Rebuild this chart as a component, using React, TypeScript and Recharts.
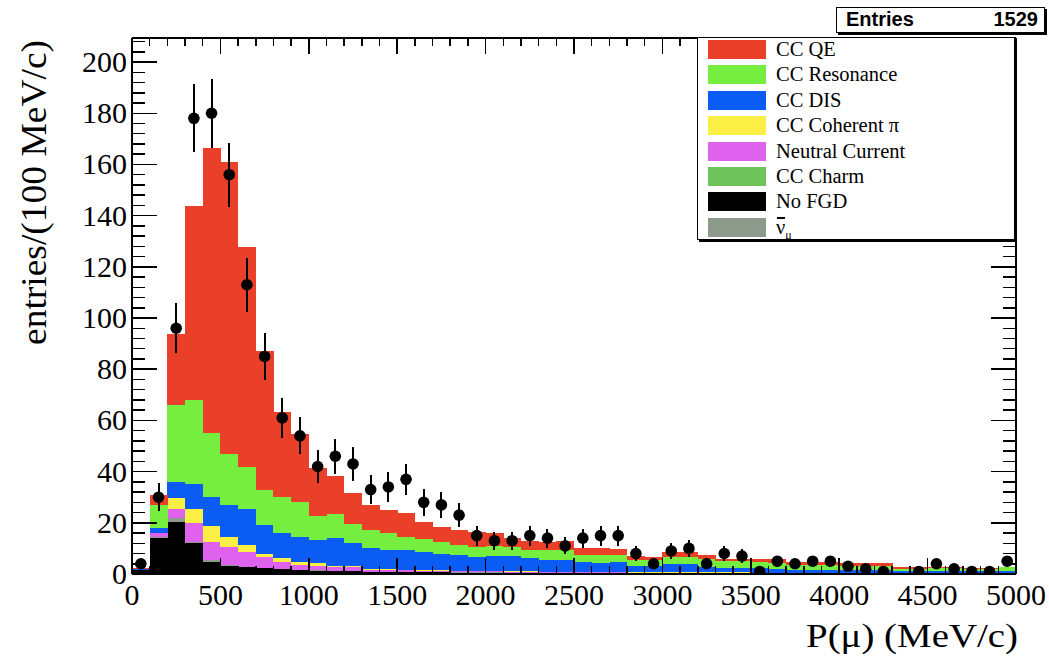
import { ComposedChart, Bar, Line, XAxis, YAxis, ErrorBar, Legend } from 'recharts';

// muon momentum bins, 100 MeV/c wide (low edges)
const binStart = [
  0, 100, 200, 300, 400, 500, 600, 700, 800, 900,
  1000, 1100, 1200, 1300, 1400, 1500, 1600, 1700, 1800, 1900,
  2000, 2100, 2200, 2300, 2400, 2500, 2600, 2700, 2800, 2900,
  3000, 3100, 3200, 3300, 3400, 3500, 3600, 3700, 3800, 3900,
  4000, 4100, 4200, 4300, 4400, 4500, 4600, 4700, 4800, 4900,
];
const binWidth = 100;

// MC stack components (entries per bin)
const noFGD = [
  1.5, 14, 20.4, 12, 4.8, 3.1, 2.6, 2.2, 1.8, 1.5,
  1.2, 1.0, 1.0, 0.8, 0.7, 0.7, 0.6, 0.6, 0.5, 0.5,
  0.5, 0.4, 0.4, 0.3, 0.3, 0.3, 0.3, 0.3, 0.2, 0.2,
  0.2, 0.2, 0.2, 0.2, 0.2, 0.1, 0.1, 0.1, 0.1, 0.1,
  0.1, 0.1, 0.1, 0.1, 0.1, 0.1, 0.1, 0.1, 0.1, 0.1,
];
const antiNuMu = [
  0, 0.5, 1.3, 0.6, 0.7, 0.4, 0.3, 0.2, 0.2, 0.2,
  0.2, 0.2, 0.1, 0.1, 0.1, 0.1, 0.1, 0.1, 0.1, 0.1,
  0.1, 0.1, 0.1, 0.1, 0.1, 0.1, 0.1, 0.1, 0.1, 0.1,
  0.1, 0.1, 0.1, 0.1, 0.1, 0.1, 0.1, 0.1, 0.1, 0.1,
  0.1, 0.1, 0.1, 0.1, 0.1, 0.1, 0.1, 0.1, 0.1, 0.1,
];
const neutralCurrent = [
  0, 1.4, 3.6, 7.2, 7.1, 7.2, 5.8, 4.1, 2.8, 1.8,
  1.9, 1.7, 1.5, 0.8, 0.7, 0.6, 0.6, 0.5, 0.5, 0.4,
  0.4, 0.4, 0.3, 0.3, 0.3, 0.3, 0.3, 0.3, 0.2, 0.2,
  0.2, 0.2, 0.2, 0.2, 0.2, 0.1, 0.1, 0.1, 0.1, 0.1,
  0.1, 0.1, 0.1, 0.1, 0.1, 0.1, 0.1, 0.1, 0.1, 0.1,
];
const ccCharm = [
  0, 0, 0, 0, 0, 0, 0, 0, 0, 0,
  0, 0, 0, 0, 0, 0, 0, 0, 0, 0,
  0, 0, 0, 0, 0, 0, 0, 0, 0, 0,
  0, 0, 0, 0, 0, 0, 0, 0, 0, 0,
  0, 0, 0, 0, 0, 0, 0, 0, 0, 0,
];
const ccCoherent = [
  0, 0, 4.3, 5.5, 6.2, 3.9, 2.6, 1.3, 1.3, 1.0,
  0.9, 0.4, 0.4, 0.3, 0.3, 0.3, 0.2, 0.2, 0.2, 0.2,
  0.1, 0.1, 0.2, 0.1, 0.1, 0.1, 0.1, 0.1, 0.1, 0.1,
  0.1, 0.1, 0.1, 0.1, 0.1, 0.1, 0.1, 0, 0, 0,
  0, 0, 0, 0, 0, 0, 0, 0, 0, 0,
];
const ccDIS = [
  0.3, 1.9, 6.4, 9.9, 11.4, 12.4, 14.2, 11.2, 9.9, 9.8,
  9.1, 10.6, 9.2, 8.0, 7.6, 7.5, 6.9, 6.5, 6.1, 5.6,
  5.9, 6.0, 5.1, 4.7, 4.7, 4.0, 3.4, 4.0, 2.5, 2.5,
  3.2, 3.2, 2.3, 1.7, 1.8, 1.8, 1.4, 1.4, 1.4, 1.4,
  1.3, 1.3, 1.3, 1.0, 1.0, 1.0, 1.0, 1.0, 1.0, 1.0,
];
const ccResonance = [
  0.3, 9.2, 30, 32.6, 25, 19.9, 16.2, 13.9, 14, 14,
  9.4, 9.5, 7.2, 7.2, 6.6, 5.4, 5.4, 4.7, 3.9, 3.9,
  4.0, 3.7, 3.3, 3.9, 3.9, 2.6, 3.2, 2.6, 2.4, 2.2,
  3.0, 3.0, 2.8, 2.6, 2.5, 2.6, 2.6, 1.7, 1.7, 1.7,
  1.5, 1.5, 1.5, 0.5, 0.5, 0.9, 0.9, 0.7, 0.7, 1.3,
];
const ccQE = [
  0.4, 3.8, 27.7, 75.8, 111.2, 114.1, 85.9, 54.1, 33.2, 26.2,
  18.8, 14.8, 12.4, 9.8, 9.0, 9.4, 6.5, 5.7, 5.9, 5.7,
  5.0, 3.3, 3.6, 3.2, 3.4, 2.6, 2.6, 2.4, 1.5, 1.5,
  1.9, 1.9, 1.7, 1.1, 1.1, 1.1, 1.5, 1.3, 1.3, 1.3,
  1.3, 1.1, 1.1, 0.8, 0.8, 0.7, 0.7, 0.3, 0.3, 0.3,
];

// data points and their error bars
const dataCounts = [
  4, 30, 96, 178, 180, 156, 113, 85, 61, 54,
  42, 46, 43, 33, 34, 37, 28, 27, 23, 15,
  13, 13, 15, 14, 11, 14, 15, 15, 8, 4,
  9, 10, 4, 8, 7, 1, 5, 4, 5, 5,
  3, 2, 1, 0, 1, 4, 2, 1, 1, 5,
];
const dataErrors = [
  2, 5.5, 9.8, 13.3, 13.4, 12.5, 10.6, 9.2, 7.8, 7.3,
  6.5, 6.8, 6.6, 5.7, 5.8, 6.1, 5.3, 5.2, 4.8, 3.9,
  3.6, 3.6, 3.9, 3.7, 3.3, 3.7, 3.9, 3.9, 2.8, 2,
  3, 3.2, 2, 2.8, 2.6, 1, 2.2, 2, 2.2, 2.2,
  1.7, 1.4, 1, 0, 1, 2, 1.4, 1, 1, 2.2,
];

const xMax = 5000;
const xMajorStep = 500;
const xMinorStep = 100;
const yMax = 209.4;
const yMajorStep = 20;
const yMinorStep = 4;

const xTicks = Array.from({ length: xMax / xMinorStep + 1 }, (_, i) => i * xMinorStep);
const yTicks = Array.from({ length: Math.floor(yMax / yMinorStep) + 1 }, (_, i) => i * yMinorStep);

// stacking order, bottom to top
const series = [
  { key: 'noFGD', name: 'No FGD', values: noFGD, color: '#000000' },
  { key: 'antiNuMu', name: 'ν̄μ', values: antiNuMu, color: '#8c9a8c' },
  { key: 'nc', name: 'Neutral Current', values: neutralCurrent, color: '#df62ee' },
  { key: 'charm', name: 'CC Charm', values: ccCharm, color: '#6fc35b' },
  { key: 'coh', name: 'CC Coherent π', values: ccCoherent, color: '#fbee45' },
  { key: 'dis', name: 'CC DIS', values: ccDIS, color: '#0b5bf5' },
  { key: 'res', name: 'CC Resonance', values: ccResonance, color: '#76ee3f' },
  { key: 'qe', name: 'CC QE', values: ccQE, color: '#ea3f28' },
];
const legendOrder = ['qe', 'res', 'dis', 'coh', 'nc', 'charm', 'noFGD', 'antiNuMu'];

const chartData = binStart.map((lo, i) => {
  const row: Record<string, number> = {
    bin: lo,
    mid: lo + binWidth / 2,
    data: dataCounts[i],
    err: dataErrors[i],
  };
  series.forEach((s) => {
    row[s.key] = s.values[i];
  });
  return row;
});

const SERIF = '"Liberation Serif", "Times New Roman", serif';
const FRAME = { stroke: '#000', strokeWidth: 1.5 };

const LeftTick = ({ x, y, payload }: any) => {
  const major = payload.value % yMajorStep === 0;
  return (
    <g>
      <line x1={x} y1={y} x2={x + (major ? 25 : 13)} y2={y} {...FRAME} />
      {major && (
        <text x={x - 5} y={y + 10} textAnchor="end" fontFamily={SERIF} fontSize={30} fill="#000">
          {payload.value}
        </text>
      )}
    </g>
  );
};

const RightTick = ({ x, y, payload }: any) => {
  const major = payload.value % yMajorStep === 0;
  return <line x1={x} y1={y} x2={x - (major ? 25 : 13)} y2={y} {...FRAME} />;
};

const BottomTick = ({ x, y, payload }: any) => {
  const major = payload.value % xMajorStep === 0;
  return (
    <g>
      <line x1={x} y1={y} x2={x} y2={y - (major ? 16 : 8)} {...FRAME} />
      {major && (
        <text x={x} y={y + 31} textAnchor="middle" fontFamily={SERIF} fontSize={30} fill="#000">
          {payload.value}
        </text>
      )}
    </g>
  );
};

const TopTick = ({ x, y, payload }: any) => {
  const major = payload.value % xMajorStep === 0;
  return <line x1={x} y1={y} x2={x} y2={y + (major ? 16 : 8)} {...FRAME} />;
};

const DataDot = (props: any) => {
  const { cx, cy, value, index } = props;
  if (!value) return <g key={`dot-${index}`} />;
  return <circle key={`dot-${index}`} cx={cx} cy={cy} r={5.8} fill="#000" shapeRendering="geometricPrecision" />;
};

const AntiNuMuLabel = () => (
  <span style={{ position: 'relative' }}>
    ν
    <span style={{ position: 'absolute', left: 1, width: 8, top: 1, height: 2, background: '#000' }} />
    <sub style={{ fontSize: 12, lineHeight: 0, verticalAlign: -5 }}>μ</sub>
  </span>
);

const LegendBox = () => (
  <div
    style={{
      position: 'relative',
      width: 318,
      height: 203,
      boxSizing: 'border-box',
      border: '1.5px solid #000',
      boxShadow: '2px 2px 0 #000',
      background: '#fff',
      fontFamily: SERIF,
      fontSize: 20.5,
      color: '#000',
    }}
  >
    {legendOrder.map((k, i) => {
      const s = series.find((d) => d.key === k)!;
      return (
        <div key={k} style={{ position: 'absolute', left: 10, top: 2 + i * 25.4, height: 19, display: 'flex', alignItems: 'center' }}>
          <div style={{ width: 58, height: 19, background: s.color }} />
          <div style={{ marginLeft: 10, lineHeight: '19px', whiteSpace: 'nowrap' }}>
            {k === 'antiNuMu' ? <AntiNuMuLabel /> : s.name}
          </div>
        </div>
      );
    })}
  </div>
);

export default function App() {
  return (
    <div style={{ position: 'absolute', left: 0, top: 0, width: 1049, height: 656, background: '#fff', shapeRendering: 'crispEdges' }}>
      <ComposedChart
        width={1049}
        height={656}
        data={chartData}
        margin={{ top: 0, right: 0, bottom: 0, left: 0 }}
        barCategoryGap={0}
        barGap={0}
      >
        <XAxis xAxisId="bins" dataKey="bin" hide height={0} />
        {series.map((s) => (
          <Bar
            key={s.key}
            xAxisId="bins"
            yAxisId="l"
            dataKey={s.key}
            name={s.name}
            stackId="mc"
            fill={s.color}
            isAnimationActive={false}
          />
        ))}
        <XAxis
          xAxisId="p"
          dataKey="mid"
          type="number"
          domain={[0, xMax]}
          allowDataOverflow
          ticks={xTicks}
          interval={0}
          height={82}
          tickSize={0}
          tickMargin={0}
          tickLine={false}
          axisLine={FRAME}
          tick={(p: any) => <BottomTick {...p} />}
          label={(p: any) => {
            const vb = p.viewBox;
            return (
              <text
                x={vb.x + vb.width + 2}
                y={vb.y + 73}
                textAnchor="end"
                fontFamily={SERIF}
                fontSize={34}
                textLength={212}
                lengthAdjust="spacingAndGlyphs"
                fill="#000"
              >
                P(μ) (MeV/c)
              </text>
            );
          }}
        />
        <XAxis
          xAxisId="top"
          orientation="top"
          dataKey="mid"
          type="number"
          domain={[0, xMax]}
          allowDataOverflow
          ticks={xTicks}
          interval={0}
          height={38}
          tickSize={0}
          tickMargin={0}
          tickLine={false}
          axisLine={FRAME}
          tick={(p: any) => <TopTick {...p} />}
        />
        <YAxis
          yAxisId="l"
          type="number"
          domain={[0, yMax]}
          allowDataOverflow
          ticks={yTicks}
          interval={0}
          width={132}
          tickSize={0}
          tickMargin={0}
          tickLine={false}
          axisLine={FRAME}
          tick={(p: any) => <LeftTick {...p} />}
          label={(p: any) => {
            const vb = p.viewBox;
            const tx = vb.x + 46;
            const ty = vb.y + 2;
            return (
              <text
                x={tx}
                y={ty}
                transform={`rotate(-90 ${tx} ${ty})`}
                textAnchor="end"
                fontFamily={SERIF}
                fontSize={36}
                textLength={305}
                lengthAdjust="spacingAndGlyphs"
                fill="#000"
              >
                entries/(100 MeV/c)
              </text>
            );
          }}
        />
        <YAxis
          yAxisId="r"
          orientation="right"
          type="number"
          domain={[0, yMax]}
          allowDataOverflow
          ticks={yTicks}
          interval={0}
          width={33}
          tickSize={0}
          tickMargin={0}
          tickLine={false}
          axisLine={FRAME}
          tick={(p: any) => <RightTick {...p} />}
        />
        {/* invisible series that ties the mirrored top/right frame axes to the data */}
        <Line
          xAxisId="top"
          yAxisId="r"
          dataKey="data"
          stroke="none"
          dot={false}
          activeDot={false}
          legendType="none"
          isAnimationActive={false}
        />
        <Line
          xAxisId="p"
          yAxisId="l"
          dataKey="data"
          name="Data"
          stroke="none"
          dot={(p: any) => <DataDot key={`dot-${p.index}`} {...p} />}
          activeDot={false}
          legendType="none"
          isAnimationActive={false}
        >
          <ErrorBar dataKey="err" direction="y" width={0} stroke="#000" strokeWidth={2} />
        </Line>
        <Legend
          layout="vertical"
          align="center"
          verticalAlign="middle"
          wrapperStyle={{ left: 697, top: 37, width: 318, height: 203 }}
          content={() => <LegendBox />}
        />
      </ComposedChart>
      <div
        style={{
          position: 'absolute',
          left: 836,
          top: 7,
          width: 209,
          height: 26,
          boxSizing: 'border-box',
          border: '1.5px solid #000',
          boxShadow: '2px 2px 0 #000',
          background: '#fff',
          fontFamily: '"Liberation Sans", Arial, sans-serif',
          fontWeight: 'bold',
          fontSize: 20,
          lineHeight: '23px',
          color: '#000',
        }}
      >
        <span style={{ position: 'absolute', left: 9 }}>Entries</span>
        <span style={{ position: 'absolute', right: 6 }}>1529</span>
      </div>
    </div>
  );
}
